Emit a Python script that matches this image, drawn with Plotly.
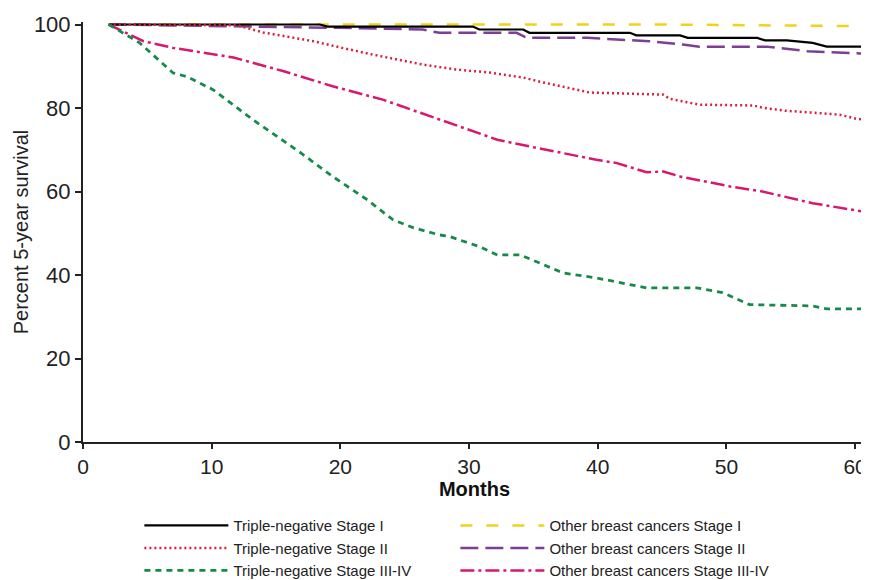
import plotly.graph_objects as go

# ---- data ----
names = [
    "Triple-negative Stage I",
    "Triple-negative Stage II",
    "Triple-negative Stage III-IV",
    "Other breast cancers Stage I",
    "Other breast cancers Stage II",
    "Other breast cancers Stage III-IV",
]

tn1_x = [2, 18.4, 19.0, 30.3, 30.8, 34.2, 34.7, 42.5, 43.0, 46.4, 47.0, 52.4, 53.0, 54.7, 56.7, 57.8, 61]
tn1_y = [100, 100, 99.5, 99.5, 98.8, 98.8, 98.0, 98.0, 97.4, 97.4, 96.8, 96.8, 96.2, 96.2, 95.6, 94.7, 94.7]

tn2_x = [2, 12, 14, 17.9, 20, 22.5, 26.4, 29, 31.6, 34.2, 35.5, 39.4, 41.7, 45.1, 45.6, 47.9, 52.1, 52.8, 54.4, 56.3, 58.8, 60.1, 61]
tn2_y = [100, 99.8, 98.1, 96.0, 94.5, 92.8, 90.4, 89.2, 88.5, 87.3, 86.3, 83.7, 83.5, 83.2, 82.2, 80.8, 80.6, 80.1, 79.4, 78.9, 78.4, 77.4, 77.2]

tn3_x = [2, 4.4, 7.0, 8.1, 10.1, 13.2, 16.9, 19.4, 22.1, 24.1, 25.7, 27.7, 28.5, 30.8, 32.2, 34, 37.3, 39.9, 43.8, 47.7, 49.7, 51.8, 56.7, 57.8, 61]
tn3_y = [100, 95.6, 88.4, 87.5, 84.4, 77.2, 69.3, 63.6, 58.0, 53.2, 51.3, 49.6, 49.2, 46.8, 44.8, 44.8, 40.5, 39.3, 36.9, 36.9, 35.8, 32.9, 32.6, 31.9, 31.9]

ob1_x = [2, 45, 61]
ob1_y = [100, 100, 99.6]

ob2_x = [2, 10, 20, 26.4, 27.7, 33.7, 34.5, 39.2, 41.7, 44, 46.6, 47.9, 53.1, 56.3, 57.8, 61]
ob2_y = [100, 99.7, 99.2, 98.8, 98.0, 98.0, 96.8, 96.8, 96.3, 96.0, 95.2, 94.7, 94.7, 93.6, 93.4, 93.0]

ob3_x = [2, 4.7, 7, 11.7, 15.6, 19.4, 23.3, 27.7, 32.2, 34.7, 39.9, 41.5, 43.8, 45.1, 46.4, 50.3, 52.8, 56.7, 61]
ob3_y = [100, 96.0, 94.4, 92.1, 88.8, 85.2, 82.0, 77.2, 72.4, 70.8, 67.6, 66.8, 64.6, 64.8, 63.6, 61.2, 60.0, 57.2, 55.0]

x_ticks = [0, 10, 20, 30, 40, 50, 60]
y_ticks = [0, 20, 40, 60, 80, 100]

FONT = "Liberation Sans Narrow, Arial Narrow, Liberation Sans, Arial, sans-serif"

series = [
    # (x, y, name, color, dash, width, legendrank)
    (ob1_x, ob1_y, names[3], "#f0d21a", "12px,14px", 2.5, 2),
    (ob2_x, ob2_y, names[4], "#7d3f95", "18px,7px", 2.5, 4),
    (tn1_x, tn1_y, names[0], "#000000", "solid", 2.2, 1),
    (tn2_x, tn2_y, names[1], "#dc1f3c", "2px,3px", 2.5, 3),
    (ob3_x, ob3_y, names[5], "#d8176e", "14px,4px,3px,4px", 2.5, 6),
    (tn3_x, tn3_y, names[2], "#178a4a", "6px,5px", 2.8, 5),
]

fig = go.Figure()
for x, y, nm, col, dash, w, rank in series:
    fig.add_trace(go.Scatter(
        x=x, y=y, name=nm, mode="lines",
        line=dict(color=col, dash=dash, width=w),
        legendrank=rank,
    ))

# page body has an 8px margin, so the figure is 8px smaller than the window
fig.update_layout(
    width=861, height=572,
    margin=dict(l=75, r=3, t=14, b=138, autoexpand=False),
    paper_bgcolor="white", plot_bgcolor="white",
    font=dict(family=FONT, color="#222222", size=15),
    showlegend=True,
    legend=dict(
        orientation="h",
        x=0.072, xanchor="left",
        y=-0.16, yanchor="top",
        entrywidth=217, entrywidthmode="pixels",
        itemwidth=84,
        font=dict(family=FONT, size=15, color="#222222"),
        tracegroupgap=0,
        bgcolor="rgba(0,0,0,0)",
    ),
    xaxis=dict(
        range=[0, 60.85],
        tickvals=x_ticks,
        ticks="outside", ticklen=5, tickwidth=1.5, tickcolor="#222222",
        showline=True, linecolor="#222222", linewidth=2,
        showgrid=False, zeroline=False, automargin=False,
        tickfont=dict(family=FONT, size=21, color="#222222"),
        title=dict(text="<b>Months</b>", font=dict(family=FONT, size=20, color="#111111"), standoff=5),
    ),
    yaxis=dict(
        range=[0, 100.6],
        tickvals=y_ticks,
        ticks="outside", ticklen=6, tickwidth=1.5, tickcolor="#222222",
        showline=True, linecolor="#222222", linewidth=2,
        showgrid=False, zeroline=False, automargin=False,
        tickfont=dict(family=FONT, size=22, color="#222222"),
        title=dict(text="Percent 5-year survival", font=dict(family=FONT, size=20, color="#222222"), standoff=0),
    ),
)

fig.write_html("out.html")
